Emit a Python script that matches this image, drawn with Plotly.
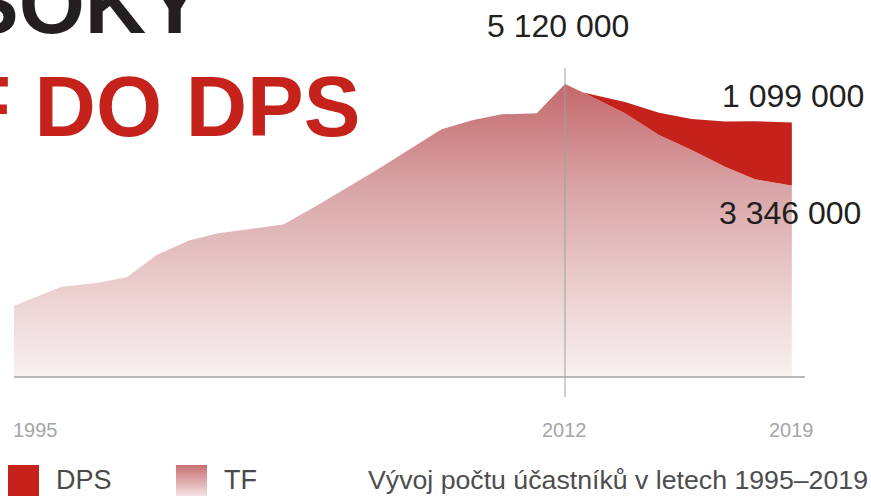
import plotly.graph_objects as go

# ---------------- data ----------------
# TF participants (persons); x positions (years)
tf_years = [1995.0, 1996.47, 1997.6, 1998.48, 1999.4, 2000.38, 2001.3, 2003.31,
            2004.23, 2005.31, 2006.19, 2007.22, 2008.19, 2009.17, 2010.05, 2011.13,
            2012.0, 2012.56, 2013.85, 2014.9, 2015.91, 2016.94, 2017.86, 2019.0]
tf_values = [1246000, 1578000, 1648000, 1742000, 2132000, 2382000, 2511000, 2665000,
             2958000, 3325000, 3617000, 3984000, 4328000, 4491000, 4590000, 4608000,
             5120000, 4971000, 4608000, 4229000, 3967000, 3675000, 3455000, 3346000]
# DPS participants (persons) from 2012 on
dps_values = [0, 197000, 389000, 541000, 789000, 1013000, 1099000]

tick_years = [1995, 2012, 2019]
tick_labels = ["1995", "2012", "2019"]

peak_label = "5 120 000"
dps_label = "1 099 000"
tf_label = "3 346 000"

# ---------------- styling ----------------
W, H = 871, 496
RED = "#c5221c"
FONT = "Liberation Sans, Arial, sans-serif"

n = len(dps_values)
dps_years = tf_years[-n:]
tf_tail = tf_values[-n:]
total_tail = [a + b for a, b in zip(tf_tail, dps_values)]

# pixel mapping helpers (margins are zero -> plot area = figure)
px_per_year = 32.41
x_left = 1995 - 14 / px_per_year
x_right = 1995 + (W - 14) / px_per_year
px_per_unit = 57.23 / 1e6
y_top = 377 / px_per_unit
y_bot = -(H - 377) / px_per_unit


def py(p):
    return 1 - p / H


def px(p):
    return p / W


fig = go.Figure()

fig.add_trace(go.Scatter(
    x=tf_years, y=tf_values, mode="lines", line=dict(width=0),
    fill="tozeroy",
    fillgradient=dict(type="vertical",
                      colorscale=[[0, "#f9f1f1"], [0.3, "#ebcfcf"],
                                  [0.65, "#d9a4a6"], [1, "#c4686c"]]),
    hoverinfo="skip", showlegend=False, name="TF"))

fig.add_trace(go.Scatter(
    x=dps_years, y=tf_tail, mode="lines", line=dict(width=0),
    hoverinfo="skip", showlegend=False))

fig.add_trace(go.Scatter(
    x=dps_years, y=total_tail, mode="lines", line=dict(width=0),
    fill="tonexty", fillcolor=RED, hoverinfo="skip", showlegend=False, name="DPS"))

# TF legend swatch with gradient (separate tiny axes)
fig.add_trace(go.Scatter(
    x=[0, 1, 1, 0, 0], y=[0, 0, 1, 1, 0], mode="lines", line=dict(width=0),
    fill="toself",
    fillgradient=dict(type="vertical", colorscale=[[0, "#f4e2e2"], [1, "#c86e72"]]),
    xaxis="x2", yaxis="y2", hoverinfo="skip", showlegend=False))

shapes = [
    # baseline
    dict(type="line", xref="x", yref="y", x0=1995, x1=1995 + 791 / px_per_year,
         y0=0, y1=0, line=dict(color="#a3a3a3", width=1.5), layer="above"),
    # 2012 marker line
    dict(type="line", xref="x", yref="y", x0=2012, x1=2012,
         y0=-20 / px_per_unit, y1=309 / px_per_unit,
         line=dict(color="#9aa2a7", width=1), layer="above"),
    # DPS legend swatch
    dict(type="rect", xref="paper", yref="paper", x0=px(8), x1=px(39),
         y0=0, y1=31 / H, fillcolor=RED, line=dict(width=0)),
]

ann = []
# titles (partially cut off at the left/top)
ann.append(dict(text="<b>SOKY</b>", x=px(205), y=py(3), xref="paper", yref="paper",
                xanchor="right", yanchor="middle", showarrow=False,
                font=dict(family=FONT, size=85, color="#231f20")))
ann.append(dict(text="<b>F DO DPS</b>", x=px(362), y=py(106), xref="paper", yref="paper",
                xanchor="right", yanchor="middle", showarrow=False,
                font=dict(family=FONT, size=85, color=RED)))
# value labels
for txt, cx, cy in [(peak_label, 558.3, 25.8), (dps_label, 793.4, 95.8), (tf_label, 790.4, 213.3)]:
    ann.append(dict(text=txt, x=px(cx), y=py(cy), xref="paper", yref="paper",
                    xanchor="center", yanchor="middle", showarrow=False,
                    font=dict(family=FONT, size=32, color="#231f20")))
# tick labels
for yr, lab in zip(tick_years, tick_labels):
    first = yr == tick_years[0]
    ann.append(dict(text=lab, x=yr, y=py(429.8), xref="x", yref="paper",
                    xanchor="left" if first else "center", xshift=-3 if first else 0,
                    yanchor="middle", showarrow=False,
                    font=dict(family=FONT, size=20, color="#a6a6a6")))
# legend texts
ann.append(dict(text="DPS", x=px(54), y=py(480), xref="paper", yref="paper",
                xanchor="left", yanchor="middle", showarrow=False,
                font=dict(family=FONT, size=27, color="#4a4a4a")))
ann.append(dict(text="TF", x=px(222), y=py(480), xref="paper", yref="paper",
                xanchor="left", yanchor="middle", showarrow=False,
                font=dict(family=FONT, size=27, color="#4a4a4a")))
ann.append(dict(text="Vývoj počtu účastníků v letech 1995–2019", x=px(870), y=py(480),
                xref="paper", yref="paper", xanchor="right", yanchor="middle",
                showarrow=False, font=dict(family=FONT, size=26.7, color="#4d4d4d")))

fig.update_layout(
    width=W, height=H, autosize=False,
    margin=dict(l=0, r=0, t=0, b=0, pad=0),
    paper_bgcolor="white", plot_bgcolor="white",
    xaxis=dict(range=[x_left, x_right], visible=False, fixedrange=True),
    yaxis=dict(range=[y_bot, y_top], visible=False, fixedrange=True),
    xaxis2=dict(domain=[px(176), px(207)], range=[0, 1], visible=False,
                anchor="y2", fixedrange=True),
    yaxis2=dict(domain=[0, 31 / H], range=[0, 1], visible=False,
                anchor="x2", fixedrange=True),
    shapes=shapes, annotations=ann, showlegend=False,
)

fig.write_html(
    "out.html",
    config={"displayModeBar": False},
    post_script="document.body.style.margin='0';document.body.style.overflow='hidden';",
)
